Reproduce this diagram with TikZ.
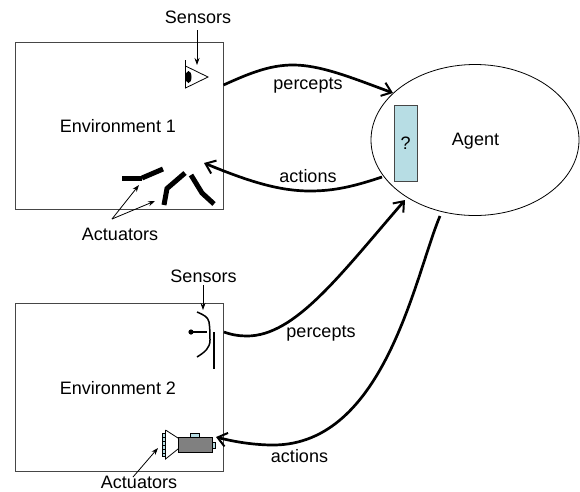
\documentclass[tikz,border=0pt]{standalone}
\usepackage{fontspec}
\setmainfont{Liberation Sans}
\usetikzlibrary{arrows.meta,shapes.geometric}
\definecolor{paleblue}{RGB}{183,221,228}
\definecolor{boxline}{RGB}{70,70,70}
\tikzset{
 envbox/.style={draw=boxline,line width=1pt,minimum width=208pt,minimum height=167pt,inner sep=0,outer sep=0},
 lab/.style={font=\fontsize{18}{20}\selectfont,inner sep=0},
 flow/.style={line width=2.7pt,-{Straight Barb[length=9pt,width=14pt,line width=2pt]}},
 pointer/.style={line width=.8pt,-{Stealth[length=7pt,width=5pt]}},
 limb/.style={line width=5pt},
}
\begin{document}
\begin{tikzpicture}[x=1pt,y=-1pt]
\useasboundingbox (0,0) rectangle (580,491);
\node[envbox] (env1) at (119,125.5) {};
\node[envbox,minimum height=168pt] (env2) at (119,387) {};
\node[lab] (e1) at (118,126) {Environment 1};
\node[lab] (e2) at (118,388) {Environment 2};
\node[draw,line width=.8pt,ellipse,minimum width=208pt,minimum height=151pt,inner sep=0,outer sep=0] (agent) at (475,140) {};
\node[draw=boxline,fill=paleblue,line width=1pt,minimum width=23pt,minimum height=75.5pt,inner sep=0] (q) at (406,143.5) {};
\node[lab] (qm) at (405.5,143.5) {?};
\node[lab] (agentlab) at (475.5,141) {Agent};
% sensors 1
\node[lab] (s1) at (198,17) {Sensors};
\coordinate (s1tail) at (197,30);
\coordinate (s1tip) at (197,65);
\draw[pointer] (s1tail) -- (s1tip);
\draw[line width=.8pt] (185.5,60) -- (185.5,88) -- (208,77) -- (185.5,66);
\node[fill=black,ellipse,minimum width=6pt,minimum height=12pt,inner sep=0] (eye) at (188.5,77) {};
% actuators 1
\draw[limb] (122,178.5) -- (142,178.5);
\draw[limb] (142,178) -- (163,169);
\draw[limb] (164,205) -- (167,188.5) -- (185,173);
\draw[limb] (191,175) -- (202,193) -- (214,204);
\node[lab] (a1) at (120,234) {Actuators};
\coordinate (a1root) at (112,219);
\coordinate (a1t1) at (139,185);
\coordinate (a1t2) at (155,201);
\draw[pointer] (a1root) -- (a1t1);
\draw[pointer] (a1root) -- (a1t2);
% sensors 2
\node[lab] (s2) at (203.5,276) {Sensors};
\coordinate (s2tail) at (203,285);
\coordinate (s2tip) at (203,310);
\draw[pointer] (s2tail) -- (s2tip);
\draw[line width=1.5pt] (197,312) .. controls (204,315) and (208,317) .. (209,322) .. controls (210,328) and (210,335) .. (210,340) .. controls (210,348) and (205,352) .. (197,357);
\draw[line width=1.5pt] (214,332) -- (214,369);
\draw[line width=1.2pt] (191,332) -- (207,332);
\fill (191,332) circle (2.6pt);
% actuators 2
\node[lab] (a2) at (139,482.5) {Actuators};
\coordinate (a2tail) at (133,477);
\coordinate (a2tip) at (158,448);
\draw[pointer] (a2tail) -- (a2tip);
\draw[line width=.8pt] (165.5,430) -- (178,438) (178,449) -- (165.5,459) -- (165.5,430);
\draw[line width=.5pt,fill=paleblue] (190,433) rectangle (199,437);
\draw[line width=.5pt,fill=paleblue] (212,442) rectangle (215,448);
\draw[line width=1pt,fill=gray] (178,437.5) rectangle (212,452);
\draw[line width=.5pt,fill=paleblue] (162,433) rectangle (165.5,456);
\foreach \yy in {437,441,445,449,453} \draw[line width=.6pt] (162,\yy) -- (165.5,\yy);
% flows
\coordinate (p1s) at (223.5,85);
\coordinate (p1m) at (293,65);
\coordinate (p1e) at (393,93);
\coordinate (ac1s) at (382,177);
\coordinate (ac1m) at (310,191);
\coordinate (ac1e) at (204,163);
\coordinate (p2s) at (224,332);
\coordinate (p2m) at (247,336);
\coordinate (p2e) at (405,200);
\coordinate (ac2s) at (440,216);
\coordinate (ac2m) at (273,445);
\coordinate (ac2e) at (216,437);
\draw[flow] (p1s) .. controls (250,73) and (270,65) .. (p1m) .. controls (320,65) and (350,77) .. (p1e);
\draw[flow] (ac1s) .. controls (355,186) and (335,191) .. (ac1m) .. controls (280,191) and (250,182) .. (ac1e);
\draw[flow] (p2s) .. controls (232,335) and (240,336) .. (p2m) .. controls (295,336) and (340,275) .. (p2e);
\draw[flow] (ac2s) .. controls (415,275) and (385,445) .. (ac2m) .. controls (255,445) and (235,442) .. (ac2e);
\node[lab] (l1) at (308,86) {percepts};
\node[lab] (l2) at (308,176) {actions};
\node[lab] (l3) at (321,334) {percepts};
\node[lab] (l4) at (299.5,456) {actions};
\end{tikzpicture}
\end{document}
